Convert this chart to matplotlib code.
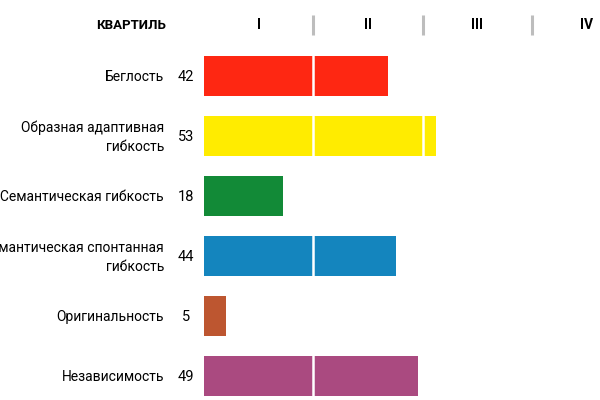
import matplotlib
matplotlib.use("Agg")
import matplotlib.pyplot as plt

categories = ["Беглость", "Образная адаптивная\nгибкость", "Семантическая гибкость",
              "Семантическая спонтанная\nгибкость", "Оригинальность", "Независимость"]
values = [42, 53, 18, 44, 5, 49]
colors = ["#FE2712", "#FFEC00", "#128A37", "#1485BE", "#BD5630", "#AA4A80"]
quartiles = ["I", "II", "III", "IV"]
header = "КВАРТИЛЬ"

plt.rcParams["font.family"] = ["Roboto", "DejaVu Sans"]

fig = plt.figure(figsize=(6, 4), dpi=100)
ax = fig.add_axes([0.34, 0, 0.66, 1])
ax.set_xlim(0, 90.6)
ax.set_ylim(5.4, -1.267)
ax.axis("off")

ys = list(range(len(values)))
ax.barh(ys, values, height=0.667, color=colors, zorder=2)

# white gaps at quartile boundaries
ax.vlines([25, 50, 75], -0.5, 5.5, color="white", lw=1.8, zorder=3)

for y, cat, v in zip(ys, categories, values):
    ax.text(-9.15, y + 0.02, cat, ha="right", va="center", fontsize=10,
            linespacing=1.45, clip_on=False)
    ax.text(-4.1, y + 0.02, str(v), ha="center", va="center", fontsize=10.5,
            clip_on=False)

hy = -0.85
ax.text(-8.8, hy, header, ha="right", va="center", fontsize=9.5,
        fontweight="bold", clip_on=False)
for i, q in enumerate(quartiles):
    ax.text(12.5 + 25 * i, hy, q, ha="center", va="center", fontsize=10,
            fontweight="bold", clip_on=False)
for b in [25, 50, 75]:
    ax.plot([b, b], [-1.02, -0.68], color="#BDBDBD", lw=2.2, solid_capstyle="butt",
            clip_on=False)

fig.savefig("out.png", dpi=100)
